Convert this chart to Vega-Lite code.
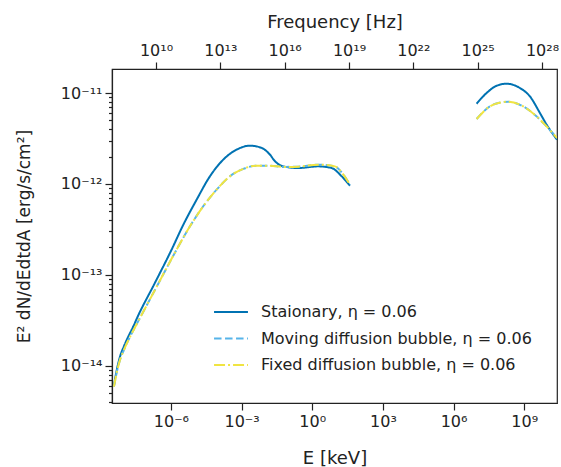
{
  "$schema": "https://vega.github.io/schema/vega-lite/v6.json",
  "width": 445,
  "height": 334,
  "autosize": {"type": "none"},
  "padding": {"left": 112, "top": 69, "right": 4, "bottom": 64},
  "background": "white",
  "config": {
    "font": "DejaVu Sans",
    "view": {"stroke": "#222", "strokeWidth": 1.2},
    "axis": {
      "domainColor": "#222", "tickColor": "#222", "labelColor": "#222", "titleColor": "#222",
      "labelFont": "DejaVu Sans", "titleFont": "DejaVu Sans",
      "labelFontSize": 16, "titleFontSize": 18, "titleFontWeight": "normal",
      "grid": false, "tickWidth": 1.2, "domainWidth": 1.2,
      "labelOverlap": false, "labelFlush": false
    },
    "legend": {
      "symbolType": "stroke", "symbolStrokeWidth": 2, "symbolSize": 1150,
      "labelFont": "DejaVu Sans", "labelFontSize": 16, "labelColor": "#222",
      "labelOffset": 12, "padding": 0, "rowPadding": 0.5, "labelLimit": 400
    }
  },
  "datasets": {
    "sed": [
      {"series": "Staionary, η = 0.06", "seg": "lo", "E": 3.828e-9, "flux": 6.081e-15},
      {"series": "Staionary, η = 0.06", "seg": "lo", "E": 5.012e-9, "flux": 8.913e-15},
      {"series": "Staionary, η = 0.06", "seg": "lo", "E": 6.918e-9, "flux": 1.259e-14},
      {"series": "Staionary, η = 0.06", "seg": "lo", "E": 1.0e-8, "flux": 1.622e-14},
      {"series": "Staionary, η = 0.06", "seg": "lo", "E": 1.585e-8, "flux": 2.113e-14},
      {"series": "Staionary, η = 0.06", "seg": "lo", "E": 2.512e-8, "flux": 2.692e-14},
      {"series": "Staionary, η = 0.06", "seg": "lo", "E": 3.733e-8, "flux": 3.388e-14},
      {"series": "Staionary, η = 0.06", "seg": "lo", "E": 2.104e-7, "flux": 8.166e-14},
      {"series": "Staionary, η = 0.06", "seg": "lo", "E": 1.076e-6, "flux": 1.897e-13},
      {"series": "Staionary, η = 0.06", "seg": "lo", "E": 3.350e-6, "flux": 3.548e-13},
      {"series": "Staionary, η = 0.06", "seg": "lo", "E": 1.239e-5, "flux": 6.714e-13},
      {"series": "Staionary, η = 0.06", "seg": "lo", "E": 4.550e-5, "flux": 1.213e-12},
      {"series": "Staionary, η = 0.06", "seg": "lo", "E": 1.667e-4, "flux": 1.849e-12},
      {"series": "Staionary, η = 0.06", "seg": "lo", "E": 6.166e-4, "flux": 2.382e-12},
      {"series": "Staionary, η = 0.06", "seg": "lo", "E": 2.270e-3, "flux": 2.636e-12},
      {"series": "Staionary, η = 0.06", "seg": "lo", "E": 7.112e-3, "flux": 2.489e-12},
      {"series": "Staionary, η = 0.06", "seg": "lo", "E": 1.603e-2, "flux": 2.099e-12},
      {"series": "Staionary, η = 0.06", "seg": "lo", "E": 2.612e-2, "flux": 1.778e-12},
      {"series": "Staionary, η = 0.06", "seg": "lo", "E": 5.888e-2, "flux": 1.560e-12},
      {"series": "Staionary, η = 0.06", "seg": "lo", "E": 0.2547, "flux": 1.496e-12},
      {"series": "Staionary, η = 0.06", "seg": "lo", "E": 1.799, "flux": 1.560e-12},
      {"series": "Staionary, η = 0.06", "seg": "lo", "E": 6.607, "flux": 1.496e-12},
      {"series": "Staionary, η = 0.06", "seg": "lo", "E": 17.78, "flux": 1.213e-12},
      {"series": "Staionary, η = 0.06", "seg": "lo", "E": 39.81, "flux": 9.550e-13},
      {"series": "Staionary, η = 0.06", "seg": "hi", "E": 9.506e6, "flux": 7.621e-12},
      {"series": "Staionary, η = 0.06", "seg": "hi", "E": 2.512e7, "flux": 1.0e-11},
      {"series": "Staionary, η = 0.06", "seg": "hi", "E": 6.761e7, "flux": 1.202e-11},
      {"series": "Staionary, η = 0.06", "seg": "hi", "E": 1.778e8, "flux": 1.265e-11},
      {"series": "Staionary, η = 0.06", "seg": "hi", "E": 6.546e8, "flux": 1.135e-11},
      {"series": "Staionary, η = 0.06", "seg": "hi", "E": 1.738e9, "flux": 9.183e-12},
      {"series": "Staionary, η = 0.06", "seg": "hi", "E": 4.624e9, "flux": 6.026e-12},
      {"series": "Staionary, η = 0.06", "seg": "hi", "E": 8.913e9, "flux": 4.487e-12},
      {"series": "Staionary, η = 0.06", "seg": "hi", "E": 2.455e10, "flux": 3.069e-12},

      {"series": "Moving diffusion bubble, η = 0.06", "seg": "lo", "E": 3.828e-9, "flux": 5.888e-15},
      {"series": "Moving diffusion bubble, η = 0.06", "seg": "lo", "E": 5.012e-9, "flux": 8.414e-15},
      {"series": "Moving diffusion bubble, η = 0.06", "seg": "lo", "E": 6.918e-9, "flux": 1.161e-14},
      {"series": "Moving diffusion bubble, η = 0.06", "seg": "lo", "E": 1.0e-8, "flux": 1.479e-14},
      {"series": "Moving diffusion bubble, η = 0.06", "seg": "lo", "E": 1.585e-8, "flux": 1.928e-14},
      {"series": "Moving diffusion bubble, η = 0.06", "seg": "lo", "E": 2.818e-8, "flux": 2.570e-14},
      {"series": "Moving diffusion bubble, η = 0.06", "seg": "lo", "E": 4.864e-8, "flux": 3.350e-14},
      {"series": "Moving diffusion bubble, η = 0.06", "seg": "lo", "E": 2.911e-7, "flux": 7.980e-14},
      {"series": "Moving diffusion bubble, η = 0.06", "seg": "lo", "E": 1.754e-6, "flux": 1.897e-13},
      {"series": "Moving diffusion bubble, η = 0.06", "seg": "lo", "E": 6.457e-6, "flux": 3.420e-13},
      {"series": "Moving diffusion bubble, η = 0.06", "seg": "lo", "E": 2.360e-5, "flux": 5.675e-13},
      {"series": "Moving diffusion bubble, η = 0.06", "seg": "lo", "E": 8.750e-5, "flux": 8.650e-13},
      {"series": "Moving diffusion bubble, η = 0.06", "seg": "lo", "E": 3.214e-4, "flux": 1.213e-12},
      {"series": "Moving diffusion bubble, η = 0.06", "seg": "lo", "E": 1.180e-3, "flux": 1.462e-12},
      {"series": "Moving diffusion bubble, η = 0.06", "seg": "lo", "E": 4.365e-3, "flux": 1.589e-12},
      {"series": "Moving diffusion bubble, η = 0.06", "seg": "lo", "E": 1.603e-2, "flux": 1.589e-12},
      {"series": "Moving diffusion bubble, η = 0.06", "seg": "lo", "E": 5.888e-2, "flux": 1.538e-12},
      {"series": "Moving diffusion bubble, η = 0.06", "seg": "lo", "E": 0.2547, "flux": 1.549e-12},
      {"series": "Moving diffusion bubble, η = 0.06", "seg": "lo", "E": 1.799, "flux": 1.629e-12},
      {"series": "Moving diffusion bubble, η = 0.06", "seg": "lo", "E": 9.12, "flux": 1.560e-12},
      {"series": "Moving diffusion bubble, η = 0.06", "seg": "lo", "E": 20.89, "flux": 1.265e-12},
      {"series": "Moving diffusion bubble, η = 0.06", "seg": "lo", "E": 39.81, "flux": 9.817e-13},
      {"series": "Moving diffusion bubble, η = 0.06", "seg": "hi", "E": 9.506e6, "flux": 5.176e-12},
      {"series": "Moving diffusion bubble, η = 0.06", "seg": "hi", "E": 3.467e7, "flux": 7.129e-12},
      {"series": "Moving diffusion bubble, η = 0.06", "seg": "hi", "E": 7.943e7, "flux": 7.762e-12},
      {"series": "Moving diffusion bubble, η = 0.06", "seg": "hi", "E": 2.089e8, "flux": 8.017e-12},
      {"series": "Moving diffusion bubble, η = 0.06", "seg": "hi", "E": 9.036e8, "flux": 7.129e-12},
      {"series": "Moving diffusion bubble, η = 0.06", "seg": "hi", "E": 3.311e9, "flux": 5.534e-12},
      {"series": "Moving diffusion bubble, η = 0.06", "seg": "hi", "E": 7.534e9, "flux": 4.487e-12},
      {"series": "Moving diffusion bubble, η = 0.06", "seg": "hi", "E": 2.455e10, "flux": 3.199e-12},

      {"series": "Fixed diffusion bubble, η = 0.06", "seg": "lo", "E": 3.828e-9, "flux": 5.888e-15},
      {"series": "Fixed diffusion bubble, η = 0.06", "seg": "lo", "E": 5.012e-9, "flux": 8.414e-15},
      {"series": "Fixed diffusion bubble, η = 0.06", "seg": "lo", "E": 6.918e-9, "flux": 1.161e-14},
      {"series": "Fixed diffusion bubble, η = 0.06", "seg": "lo", "E": 1.0e-8, "flux": 1.479e-14},
      {"series": "Fixed diffusion bubble, η = 0.06", "seg": "lo", "E": 1.585e-8, "flux": 1.928e-14},
      {"series": "Fixed diffusion bubble, η = 0.06", "seg": "lo", "E": 2.818e-8, "flux": 2.570e-14},
      {"series": "Fixed diffusion bubble, η = 0.06", "seg": "lo", "E": 4.864e-8, "flux": 3.350e-14},
      {"series": "Fixed diffusion bubble, η = 0.06", "seg": "lo", "E": 2.911e-7, "flux": 7.980e-14},
      {"series": "Fixed diffusion bubble, η = 0.06", "seg": "lo", "E": 1.754e-6, "flux": 1.897e-13},
      {"series": "Fixed diffusion bubble, η = 0.06", "seg": "lo", "E": 6.457e-6, "flux": 3.420e-13},
      {"series": "Fixed diffusion bubble, η = 0.06", "seg": "lo", "E": 2.360e-5, "flux": 5.675e-13},
      {"series": "Fixed diffusion bubble, η = 0.06", "seg": "lo", "E": 8.750e-5, "flux": 8.650e-13},
      {"series": "Fixed diffusion bubble, η = 0.06", "seg": "lo", "E": 3.214e-4, "flux": 1.213e-12},
      {"series": "Fixed diffusion bubble, η = 0.06", "seg": "lo", "E": 1.180e-3, "flux": 1.462e-12},
      {"series": "Fixed diffusion bubble, η = 0.06", "seg": "lo", "E": 4.365e-3, "flux": 1.589e-12},
      {"series": "Fixed diffusion bubble, η = 0.06", "seg": "lo", "E": 1.603e-2, "flux": 1.589e-12},
      {"series": "Fixed diffusion bubble, η = 0.06", "seg": "lo", "E": 5.888e-2, "flux": 1.538e-12},
      {"series": "Fixed diffusion bubble, η = 0.06", "seg": "lo", "E": 0.2547, "flux": 1.549e-12},
      {"series": "Fixed diffusion bubble, η = 0.06", "seg": "lo", "E": 1.799, "flux": 1.629e-12},
      {"series": "Fixed diffusion bubble, η = 0.06", "seg": "lo", "E": 9.12, "flux": 1.560e-12},
      {"series": "Fixed diffusion bubble, η = 0.06", "seg": "lo", "E": 20.89, "flux": 1.265e-12},
      {"series": "Fixed diffusion bubble, η = 0.06", "seg": "lo", "E": 39.81, "flux": 9.817e-13},
      {"series": "Fixed diffusion bubble, η = 0.06", "seg": "hi", "E": 9.506e6, "flux": 5.176e-12},
      {"series": "Fixed diffusion bubble, η = 0.06", "seg": "hi", "E": 3.467e7, "flux": 7.129e-12},
      {"series": "Fixed diffusion bubble, η = 0.06", "seg": "hi", "E": 7.943e7, "flux": 7.762e-12},
      {"series": "Fixed diffusion bubble, η = 0.06", "seg": "hi", "E": 2.089e8, "flux": 8.017e-12},
      {"series": "Fixed diffusion bubble, η = 0.06", "seg": "hi", "E": 9.036e8, "flux": 7.129e-12},
      {"series": "Fixed diffusion bubble, η = 0.06", "seg": "hi", "E": 3.311e9, "flux": 5.534e-12},
      {"series": "Fixed diffusion bubble, η = 0.06", "seg": "hi", "E": 7.534e9, "flux": 4.487e-12},
      {"series": "Fixed diffusion bubble, η = 0.06", "seg": "hi", "E": 2.455e10, "flux": 3.199e-12}
    ]
  },
  "layer": [
    {
      "data": {"name": "sed"},
      "mark": {"type": "line", "strokeWidth": 2, "interpolate": "monotone", "clip": true},
      "encoding": {
        "x": {
          "field": "E", "type": "quantitative",
          "scale": {"type": "log", "domain": [3.162e-9, 2.455e10]},
          "axis": {
            "title": "E [keV]", "orient": "bottom",
            "values": [1e-6, 1e-3, 1, 1e3, 1e6, 1e9],
            "tickSize": 7, "labelPadding": 3, "titlePadding": 20,
            "labelExpr": "'10' + replace(replace(replace(replace(replace(replace(replace(replace(replace(replace(replace('' + round(log(datum.value)/LN10), regexp('-','g'), '⁻'), regexp('0','g'), '⁰'), regexp('1','g'), '¹'), regexp('2','g'), '²'), regexp('3','g'), '³'), regexp('4','g'), '⁴'), regexp('5','g'), '⁵'), regexp('6','g'), '⁶'), regexp('7','g'), '⁷'), regexp('8','g'), '⁸'), regexp('9','g'), '⁹')"
          }
        },
        "y": {
          "field": "flux", "type": "quantitative",
          "scale": {"type": "log", "domain": [3.89e-15, 1.837e-11]},
          "axis": {
            "title": "E² dN/dEdtdA [erg/s/cm²]", "titleFontSize": 17,
            "values": [4e-15, 5e-15, 6e-15, 7e-15, 8e-15, 9e-15, 1e-14, 2e-14, 3e-14, 4e-14, 5e-14, 6e-14, 7e-14, 8e-14, 9e-14, 1e-13, 2e-13, 3e-13, 4e-13, 5e-13, 6e-13, 7e-13, 8e-13, 9e-13, 1e-12, 2e-12, 3e-12, 4e-12, 5e-12, 6e-12, 7e-12, 8e-12, 9e-12, 1e-11],
            "tickSize": {"condition": {"test": "abs(log(datum.value)/LN10 - round(log(datum.value)/LN10)) < 0.001", "value": 7}, "value": 3.5},
            "labelPadding": 3, "titlePadding": 27,
            "labelExpr": "abs(log(datum.value)/LN10 - round(log(datum.value)/LN10)) < 0.001 ? '10' + replace(replace(replace(replace(replace(replace(replace(replace(replace(replace(replace('' + round(log(datum.value)/LN10), regexp('-','g'), '⁻'), regexp('0','g'), '⁰'), regexp('1','g'), '¹'), regexp('2','g'), '²'), regexp('3','g'), '³'), regexp('4','g'), '⁴'), regexp('5','g'), '⁵'), regexp('6','g'), '⁶'), regexp('7','g'), '⁷'), regexp('8','g'), '⁸'), regexp('9','g'), '⁹') : ''"
          }
        },
        "color": {
          "field": "series", "type": "nominal",
          "scale": {
            "domain": ["Staionary, η = 0.06", "Moving diffusion bubble, η = 0.06", "Fixed diffusion bubble, η = 0.06"],
            "range": ["#0072B2", "#56B4E9", "#F0E442"]
          },
          "legend": {"title": null, "orient": "none", "legendX": 101, "legendY": 225}
        },
        "strokeDash": {
          "field": "series", "type": "nominal",
          "scale": {
            "domain": ["Staionary, η = 0.06", "Moving diffusion bubble, η = 0.06", "Fixed diffusion bubble, η = 0.06"],
            "range": [[1, 0], [7.5, 3.5], [11, 3, 2, 3]]
          },
          "legend": {"title": null, "orient": "none", "legendX": 101, "legendY": 225}
        },
        "detail": {"field": "seg", "type": "nominal"}
      }
    },
    {
      "data": {"values": [{"nu": 1e10}, {"nu": 1e28}]},
      "mark": {"type": "point", "opacity": 0},
      "encoding": {
        "x": {
          "field": "nu", "type": "quantitative",
          "scale": {"type": "log", "domain": [8.87e7, 5.01e28]},
          "axis": {
            "title": "Frequency [Hz]", "orient": "top",
            "values": [1e10, 1e13, 1e16, 1e19, 1e22, 1e25, 1e28],
            "tickSize": 7, "labelPadding": 4, "titlePadding": 11,
            "labelExpr": "'10' + replace(replace(replace(replace(replace(replace(replace(replace(replace(replace(replace('' + round(log(datum.value)/LN10), regexp('-','g'), '⁻'), regexp('0','g'), '⁰'), regexp('1','g'), '¹'), regexp('2','g'), '²'), regexp('3','g'), '³'), regexp('4','g'), '⁴'), regexp('5','g'), '⁵'), regexp('6','g'), '⁶'), regexp('7','g'), '⁷'), regexp('8','g'), '⁸'), regexp('9','g'), '⁹')"
          }
        }
      }
    }
  ],
  "resolve": {"scale": {"x": "independent"}, "axis": {"x": "independent"}}
}
